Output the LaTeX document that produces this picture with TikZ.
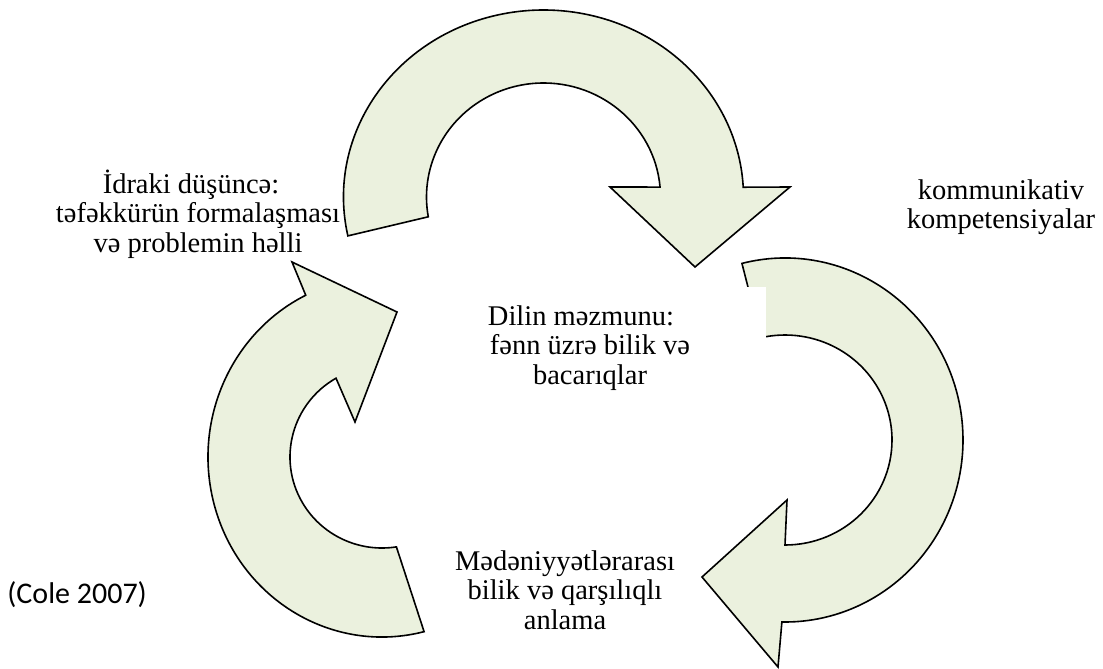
\documentclass[tikz,border=0pt]{standalone}
\usepackage{fontspec}
\setmainfont{Liberation Serif}
\newfontfamily\calibfont{Carlito}
\usetikzlibrary{calc}
\definecolor{arrowfill}{HTML}{EBF1DE}
\begin{document}
\begin{tikzpicture}[x=0.5pt,y=-0.5pt,
  curvearrow/.style={draw=black, line width=0.8pt, fill=arrowfill, line join=miter},
  lbl/.style={font=\fontsize{14.25pt}{14.8pt}\selectfont, align=center, inner sep=0pt},
  whitebox/.style={lbl, fill=white, minimum width=176pt, minimum height=61pt}]
\useasboundingbox (0,0) rectangle (1103,669);
% centres of the three curved arrows
\coordinate (ct) at (543.5,197);
\coordinate (cr) at (785,440);
\coordinate (cl) at (382,457);
% labels drawn below the arrows
\node[lbl] (idraki) at (198,214) {İdraki düşüncə:\hspace*{7pt}\\ təfəkkürün formalaşması\\ və problemin həlli};
\node[lbl] (komm) at (1001,207) {kommunikativ\\ kompetensiyalar};
\node[lbl] (mede) at (565,590) {Mədəniyyətlərarası\\ bilik və qarşılıqlı\\ anlama};
\node[anchor=base west, inner sep=0pt, font=\calibfont\fontsize{15pt}{17pt}\selectfont] (cole) at (7,603) {(Cole 2007)};
% top arrow
\draw[curvearrow] ($(ct)+(168:200 and 187)$) arc[start angle=168, end angle=357, x radius=200, y radius=187]
  -- (790,187) -- (695,267) -- (610,187)
  -- ($(ct)+(355:117 and 114)$) arc[start angle=355, end angle=170, x radius=117, y radius=114] -- cycle;
% right arrow
\draw[curvearrow] ($(cr)+(256:178 and 182)$) arc[start angle=256, end angle=451, x radius=178, y radius=182]
  -- (778,667) -- (702,577) -- (787,500)
  -- ($(cr)+(450:107 and 105)$) arc[start angle=450, end angle=257, x radius=107, y radius=105] -- cycle;
% left arrow
\draw[curvearrow] ($(cl)+(76:174 and 180)$) arc[start angle=76, end angle=244, x radius=174, y radius=180]
  -- (292,262) -- (397,312) -- (355,422)
  -- ($(cl)+(240:92 and 91)$) arc[start angle=240, end angle=81, x radius=92, y radius=91] -- cycle;
% central text box with white background
\node[whitebox] (dilin) at (590,348) {Dilin məzmunu:\hspace*{9pt}\\ fənn üzrə bilik və\\ bacarıqlar};
\end{tikzpicture}
\end{document}
